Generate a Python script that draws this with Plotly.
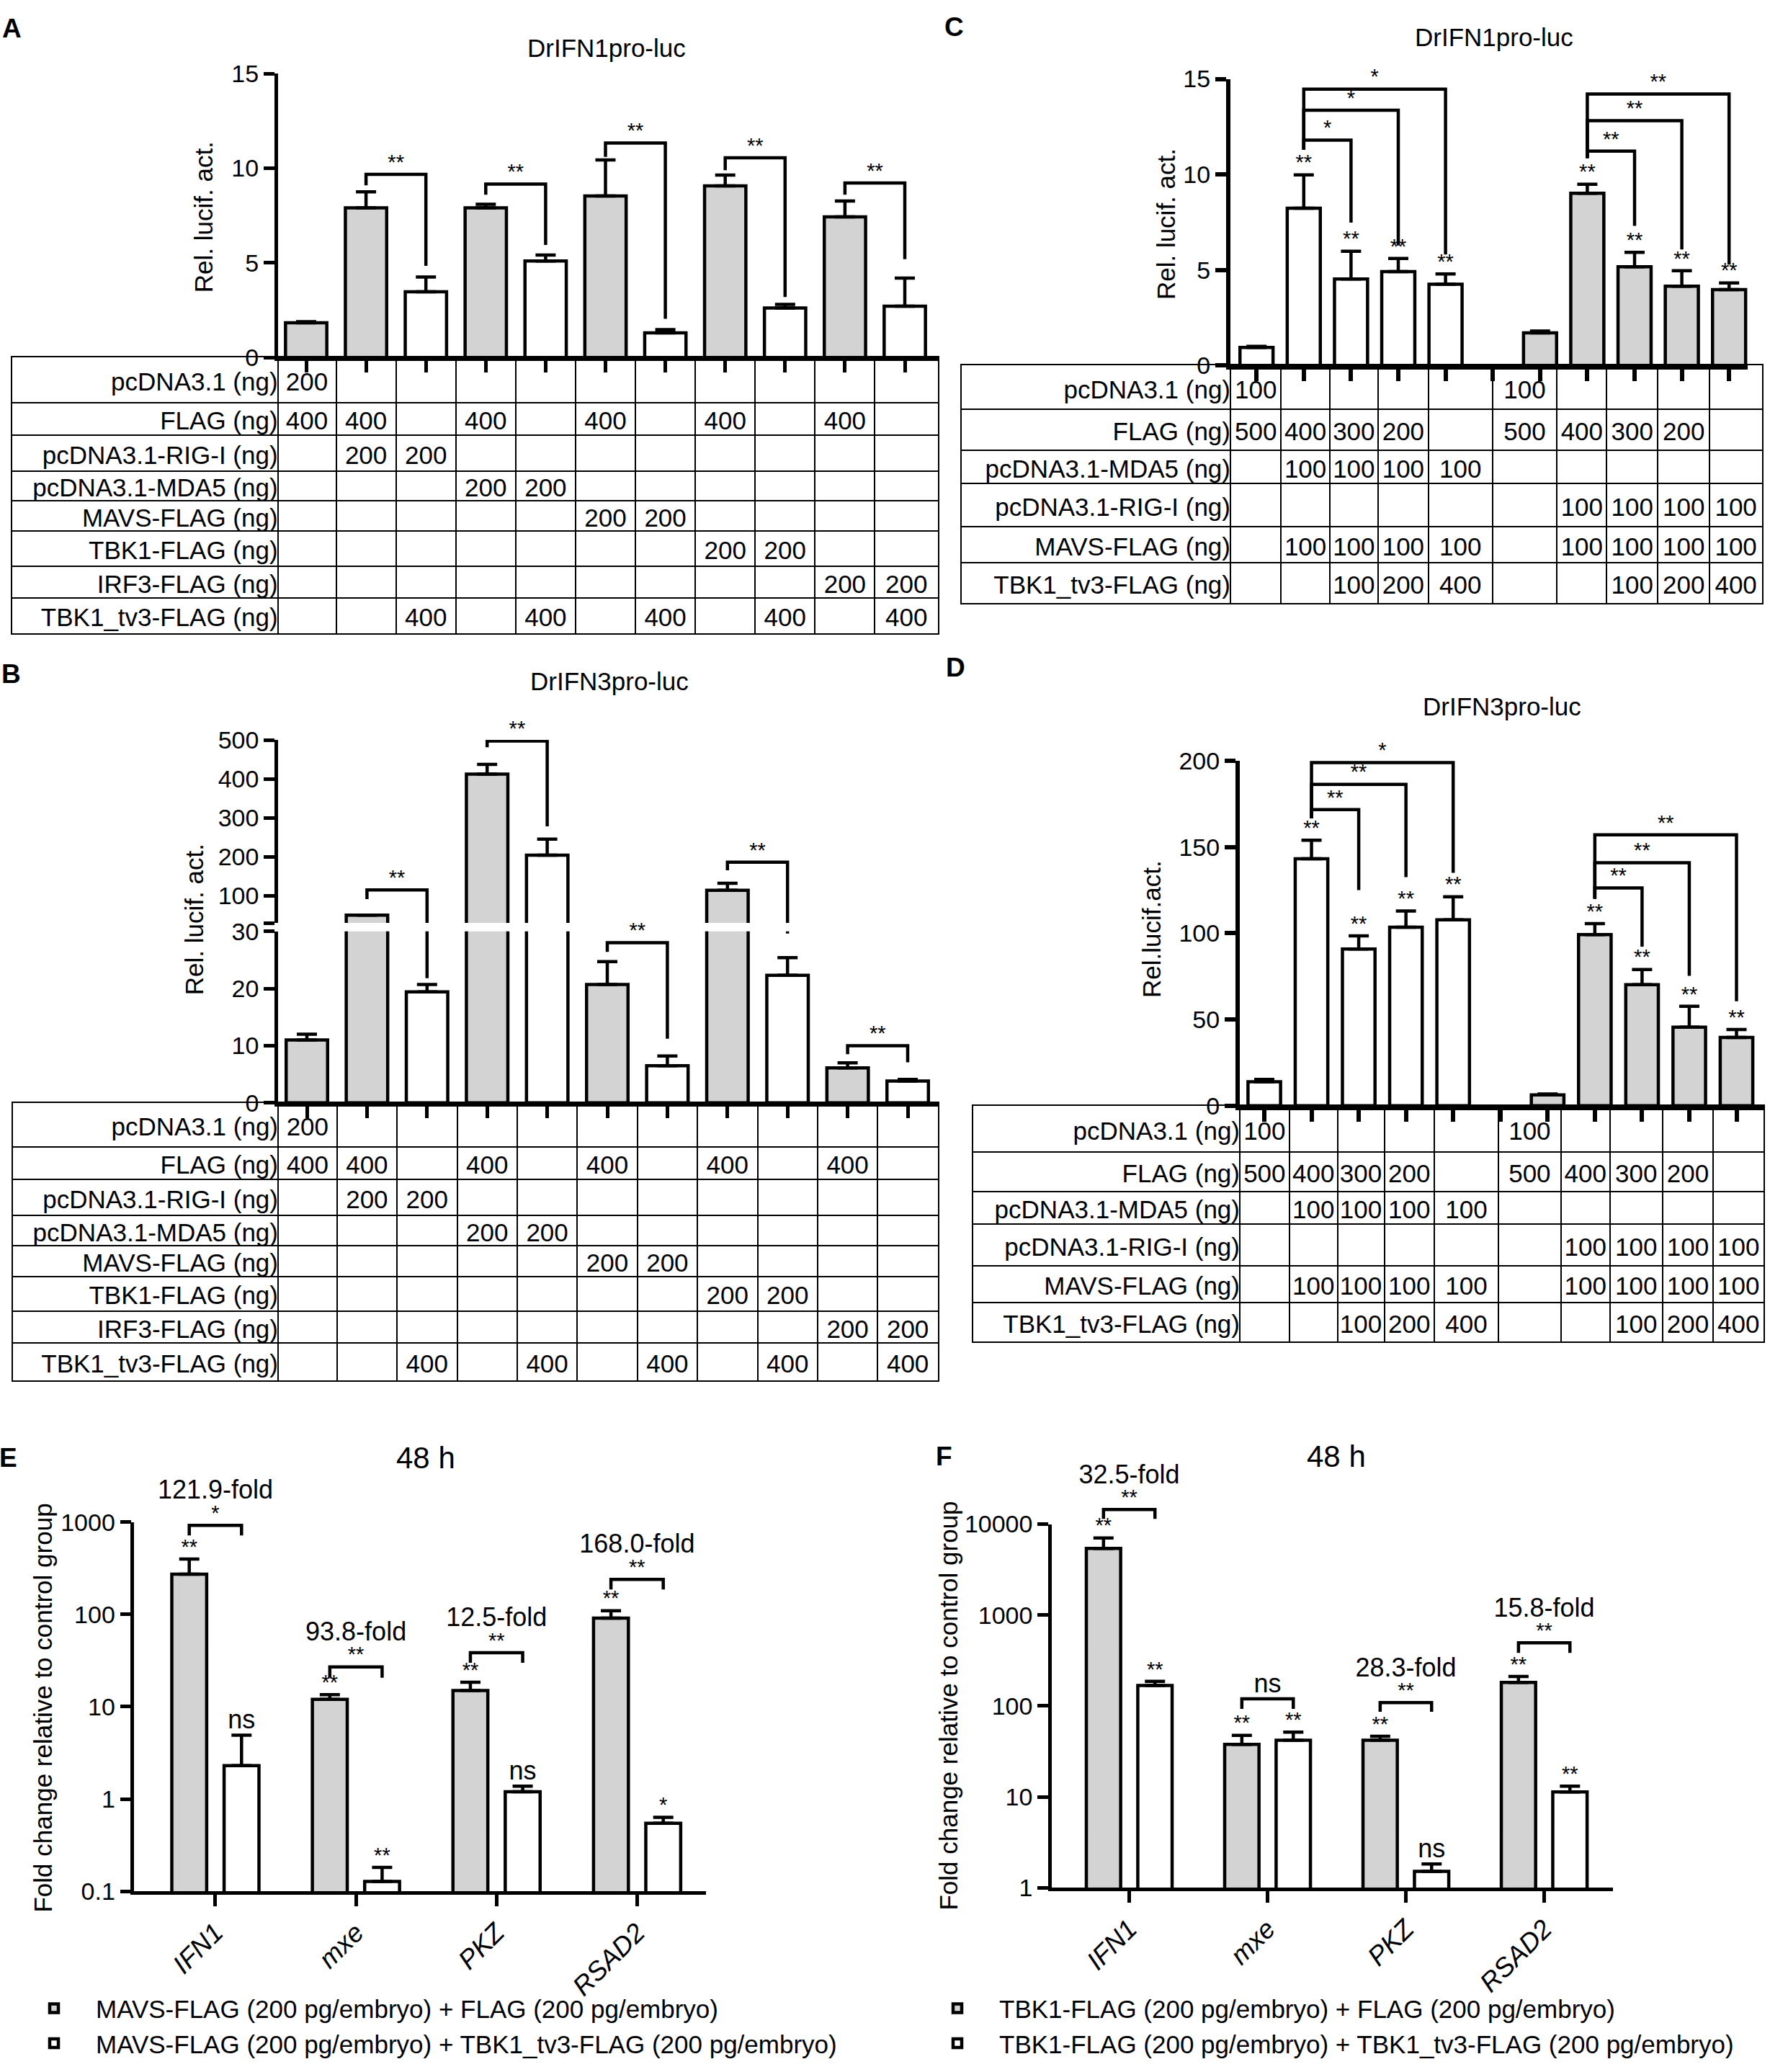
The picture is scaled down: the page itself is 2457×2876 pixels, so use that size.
import plotly.graph_objects as go

# ---------------- values ----------------

# A / B : eleven transfection groups, table under the bars
ab_rows = ["pcDNA3.1 (ng)", "FLAG (ng)", "pcDNA3.1-RIG-I (ng)", "pcDNA3.1-MDA5 (ng)",
           "MAVS-FLAG (ng)", "TBK1-FLAG (ng)", "IRF3-FLAG (ng)", "TBK1_tv3-FLAG (ng)"]
ab_cells = [
    ["200", "", "", "", "", "", "", "", "", "", ""],
    ["400", "400", "", "400", "", "400", "", "400", "", "400", ""],
    ["", "200", "200", "", "", "", "", "", "", "", ""],
    ["", "", "", "200", "200", "", "", "", "", "", ""],
    ["", "", "", "", "", "200", "200", "", "", "", ""],
    ["", "", "", "", "", "", "", "200", "200", "", ""],
    ["", "", "", "", "", "", "", "", "", "200", "200"],
    ["", "", "400", "", "400", "", "400", "", "400", "", "400"],
]
ab_pos = list(range(11))

a_mean = [1.84, 7.91, 3.48, 7.91, 5.10, 8.54, 1.31, 9.07, 2.62, 7.43, 2.72]
a_upper = [1.90, 8.76, 4.26, 8.10, 5.42, 10.44, 1.48, 9.64, 2.81, 8.27, 4.20]
# (left bar, right bar, left foot, top, right foot, label)
a_brackets = [(1, 2, 9.1, 9.68, 4.85, "**"), (3, 4, 8.6, 9.16, 5.95, "**"),
              (5, 6, 10.6, 11.33, 2.05, "**"), (7, 8, 9.9, 10.55, 3.2, "**"),
              (9, 10, 8.6, 9.22, 5.2, "**")]

b_mean = [11.0, 50.0, 19.4, 412, 204, 20.7, 6.5, 114, 22.3, 6.1, 3.8]
b_upper = [12.0, 50.0, 20.7, 437, 245, 24.7, 8.2, 132, 25.4, 7.0, 4.1]
b_brackets = [(1, 2, 91, 115, 21.8, "**"), (3, 4, 481, 497, 278, "**"),
              (5, 6, 26.4, 28.0, 11.2, "**"), (7, 8, 165, 186, 29.6, "**"),
              (9, 10, 8.5, 10.0, 7.1, "**")]

# C / D : two series of five groups
cd_rows = ["pcDNA3.1 (ng)", "FLAG (ng)", "pcDNA3.1-MDA5 (ng)", "pcDNA3.1-RIG-I (ng)",
           "MAVS-FLAG (ng)", "TBK1_tv3-FLAG (ng)"]
cd_cells = [
    ["100", "", "", "", "", "100", "", "", "", ""],
    ["500", "400", "300", "200", "", "500", "400", "300", "200", ""],
    ["", "100", "100", "100", "100", "", "", "", "", ""],
    ["", "", "", "", "", "", "100", "100", "100", "100"],
    ["", "100", "100", "100", "100", "", "100", "100", "100", "100"],
    ["", "", "100", "200", "400", "", "", "100", "200", "400"],
]
cd_pos = [0, 1, 2, 3, 4, 6, 7, 8, 9, 10]
cd_group = ["MDA5"] * 5 + ["RIG-I"] * 5

c_mean = [0.94, 8.23, 4.53, 4.91, 4.25, 1.71, 9.02, 5.17, 4.15, 3.97]
c_upper = [1.00, 9.98, 5.98, 5.60, 4.79, 1.80, 9.49, 5.92, 4.96, 4.32]
c_stars = ["", "**", "**", "**", "**", "", "**", "**", "**", "**"]
c_brackets = [(1, 2, 11.3, 11.8, 7.48, "*"), (1, 3, 11.3, 13.36, 6.28, "*"),
              (1, 4, 11.3, 14.47, 5.81, "*"), (7, 8, 10.85, 11.22, 7.31, "**"),
              (7, 9, 10.85, 12.82, 6.07, "**"), (7, 10, 10.85, 14.21, 5.28, "**")]

d_mean = [13.9, 143.2, 90.9, 103.5, 107.8, 6.3, 99.2, 70.2, 45.5, 39.6]
d_upper = [15.2, 154.0, 98.5, 112.9, 121.2, 6.8, 105.6, 79.0, 57.6, 44.2]
d_stars = ["", "**", "**", "**", "**", "", "**", "**", "**", "**"]
d_brackets = [(1, 2, 166.7, 171.7, 125, "**"), (1, 3, 166.7, 186.4, 132.6, "**"),
              (1, 4, 166.7, 199, 135.1, "*"), (7, 8, 120, 126.3, 92.2, "**"),
              (7, 9, 120, 140.9, 75.3, "**"), (7, 10, 120, 157.1, 60.6, "**")]

# E / F : qPCR, log scale
genes = ["IFN1", "mxe", "PKZ", "RSAD2"]

e_gray = [273, 12.0, 15.0, 91.2]
e_gray_up = [397, 13.5, 18.4, 109.6]
e_white = [2.30, 0.128, 1.20, 0.545]
e_white_up = [4.92, 0.182, 1.38, 0.634]
e_gray_sig = ["**", "**", "**", "**"]
e_white_sig = ["ns", "**", "ns", "*"]
e_pair_sig = ["*", "**", "**", "**"]
e_fold = ["121.9-fold", "93.8-fold", "12.5-fold", "168.0-fold"]
e_brk_top = [923, 27.0, 38.5, 239]
e_brk_foot = [716, 20.6, 29.9, 186]
e_names = ["MAVS-FLAG (200 pg/embryo) + FLAG (200 pg/embryo)",
           "MAVS-FLAG (200 pg/embryo) + TBK1_tv3-FLAG (200 pg/embryo)"]

f_gray = [5395, 37.8, 41.9, 181]
f_gray_up = [7050, 47.4, 46.4, 211]
f_white = [168, 41.9, 1.51, 11.3]
f_white_up = [186, 51.5, 1.82, 13.1]
f_gray_sig = ["**", "**", "**", "**"]
f_white_sig = ["**", "**", "ns", "**"]
f_pair_sig = ["**", "ns", "**", "**"]
f_fold = ["32.5-fold", "", "28.3-fold", "15.8-fold"]
f_brk_top = [14490, 119.7, 109, 495]
f_brk_foot = [11430, 92.6, 86, 383]
f_names = ["TBK1-FLAG (200 pg/embryo) + FLAG (200 pg/embryo)",
           "TBK1-FLAG (200 pg/embryo) + TBK1_tv3-FLAG (200 pg/embryo)"]

# ---------------- layout / style ----------------
W, H = 2457, 2876
FONT = "Liberation Sans, Arial, sans-serif"
GRAY = "#d3d3d3"
LW = 4.5      # bars, error bars, brackets
TW = 2        # table lines
BARGAP, GROUPGAP = 0.256, 0.333
ROW_TEXT_DROP = 6   # table text sits a little low in its row


def fx(p):
    return p / W


def fy(p):
    return 1 - p / H


# pixel geometry of each panel (table rows given as their boundaries, top to bottom)
GEO_A = dict(c0=425.0, step=83.1, axis=385.6, right=1302, bw=0.69, alw=4.5,
             segs=[dict(bot=483.8, top=84.2, range=[0, 15], ticks=[0, 5, 10, 15])],
             table=(16.8, 1302), rows_px=[483.8, 547, 593, 643, 685, 728, 777, 822, 872],
             cols=[k + 0.5 for k in range(10)])
GEO_B = dict(c0=426.0, step=83.4, axis=386.0, right=1302, bw=0.69, alw=4.5,
             segs=[dict(bot=1532, top=1290.7, range=[0, 30], ticks=[0, 10, 20, 30]),
                   dict(bot=1279, top=1021.5, range=[30, 500],
                        ticks=[30, 100, 200, 300, 400, 500],
                        text=["", "100", "200", "300", "400", "500"])],
             table=(18, 1302), rows_px=[1532, 1594, 1640, 1690, 1733, 1776, 1825, 1870, 1922],
             cols=[k + 0.5 for k in range(10)])
GEO_C = dict(c0=1744.2, step=65.6, axis=1708, right=2426, bw=0.7, alw=6,
             segs=[dict(bot=494.8, top=91.8, range=[0, 15], ticks=[0, 5, 10, 15])],
             table=(1334.5, 2446), rows_px=[494.8, 556.8, 614, 661, 721.5, 772, 829.4],
             cols=[0.52, 1.55, 2.57, 3.64, 4.99, 6.36, 7.41, 8.49, 9.59])
GEO_D = dict(c0=1755.0, step=65.55, axis=1721, right=2448, bw=0.69, alw=6,
             segs=[dict(bot=1536, top=1051, range=[0, 200], ticks=[0, 50, 100, 150, 200])],
             table=(1350.5, 2448), rows_px=[1536, 1601.6, 1656.7, 1703, 1761, 1813, 1868],
             cols=[0.53, 1.55, 2.54, 3.6, 4.96, 6.28, 7.32, 8.43, 9.51])
GEO_E = dict(axis=186.4, right=980, xrange=[-0.577, 3.49], bot=2641.1, top=2121.7,
             yrange=[-1, 3], ticks=[0.1, 1, 10, 100, 1000], ann_top=2040)
GEO_F = dict(axis=1460, right=2239, xrange=[-0.56, 3.497], bot=2636, top=2124.6,
             yrange=[0, 4], ticks=[1, 10, 100, 1000, 10000], ann_top=2035)

fig = go.Figure()
lay = {}
counter = {"x": 0, "y": 0}


def new_ax(letter):
    counter[letter] += 1
    n = counter[letter]
    return letter if n == 1 else f"{letter}{n}"


def key(ref):
    return ref[0] + "axis" + ref[1:]


def ystyle(lw):
    return dict(showline=True, linecolor="black", linewidth=lw, ticks="outside", ticklen=15,
                tickwidth=lw, tickcolor="black", showgrid=False, zeroline=False,
                tickfont=dict(size=34, color="black", family=FONT))


def xstyle(lw):
    return dict(showline=True, linecolor="black", linewidth=lw, ticks="outside", ticklen=16,
                tickwidth=lw, tickcolor="black", showgrid=False, zeroline=False)


def text_trace(x, y, text, xa, ya, size=29, pos="top center"):
    return go.Scatter(x=x, y=y, text=text, mode="text", textposition=pos,
                      textfont=dict(size=size, color="black", family=FONT),
                      xaxis=xa, yaxis=ya, showlegend=False, hoverinfo="skip",
                      cliponaxis=False)


def bracket_trace(segments, xa, ya):
    bx, by = [], []
    for xl, xr, yl, top, yr in segments:
        bx += [xl, xl, xr, xr, None]
        by += [yl, top, top, yr, None]
    return go.Scatter(x=bx, y=by, mode="lines", line=dict(color="black", width=LW),
                      xaxis=xa, yaxis=ya, showlegend=False, hoverinfo="skip")


def luc_panel(pos, mean, upper, fills, brackets, stars, rows, cells, g):
    u = lambda p: (p - g["c0"]) / g["step"]
    xa = new_ax("x")
    yas = []
    for s in g["segs"]:
        ya = new_ax("y")
        yas.append(ya)
        ax = dict(domain=[fy(s["bot"]), fy(s["top"])], range=s["range"], anchor=xa,
                  tickvals=s["ticks"], **ystyle(g["alw"]))
        if "text" in s:
            ax["ticktext"] = s["text"]
        lay[key(ya)] = ax
    lay[key(xa)] = dict(domain=[fx(g["axis"]), fx(g["right"])],
                        range=[u(g["axis"]), u(g["right"])], anchor=yas[0],
                        tickvals=list(range(11)), showticklabels=False, **xstyle(g["alw"]))

    err = [h - m for h, m in zip(upper, mean)]
    for s, ya in zip(g["segs"], yas):
        lo, hi = s["range"]
        fig.add_trace(go.Bar(
            x=pos, y=mean, width=g["bw"], xaxis=xa, yaxis=ya, showlegend=False,
            marker=dict(color=fills, line=dict(color="black", width=LW)),
            error_y=dict(type="data", symmetric=False, array=err, arrayminus=[0] * len(err),
                         color="black", thickness=LW, width=14)))
        # only the brackets that reach into this segment of a broken axis
        segs = [b[:5] for b in brackets if max(b[2:5]) > lo and min(b[2:5]) < hi]
        if segs:
            fig.add_trace(bracket_trace(segs, xa, ya))

    def seg_for(v):
        for s, ya in zip(g["segs"], yas):
            if s["range"][0] <= v <= s["range"][1] + 1e-9:
                return ya
        return yas[-1]

    for l, r, yl, top, yr, lab in brackets:
        fig.add_trace(text_trace([(l + r) / 2], [top], [lab], xa, seg_for(top)))
    if stars:
        for p, up, st in zip(pos, upper, stars):
            if st:
                fig.add_trace(text_trace([p], [up], [st], xa, seg_for(up)))

    # table beneath the bars (its y axis counts in pixels so rows keep their heights)
    tx, ty = new_ax("x"), new_ax("y")
    tl, tr = g["table"]
    rp = g["rows_px"]
    bounds = [u(g["axis"])] + g["cols"] + [u(tr)]
    centers = [(a + b) / 2 for a, b in zip(bounds[:-1], bounds[1:])]
    row_mid = [(a + b) / 2 + ROW_TEXT_DROP for a, b in zip(rp[:-1], rp[1:])]
    lay[key(tx)] = dict(domain=[fx(tl), fx(tr)], range=[u(tl), u(tr)], anchor=ty,
                        showline=True, mirror=True, linecolor="black", linewidth=TW,
                        tickvals=bounds[:-1], showgrid=True, gridcolor="black", gridwidth=TW,
                        showticklabels=False, ticks="", zeroline=False)
    lay[key(ty)] = dict(domain=[fy(rp[-1]), fy(rp[0])], range=[rp[-1], rp[0]], anchor=tx,
                        showline=True, mirror=True, linecolor="black", linewidth=TW,
                        tickvals=rp[1:-1], showgrid=True, gridcolor="black", gridwidth=TW,
                        showticklabels=False, ticks="", zeroline=False)
    cx, cy, ct = [], [], []
    for r, row in enumerate(cells):
        for c, val in enumerate(row):
            if val:
                cx.append(centers[c])
                cy.append(row_mid[r])
                ct.append(val)
    fig.add_trace(text_trace(cx, cy, ct, tx, ty, size=35, pos="middle center"))
    fig.add_trace(text_trace([bounds[0]] * len(rows), row_mid, rows, tx, ty,
                             size=35, pos="middle left"))


def qpcr_panel(gray, gray_up, white, white_up, gray_sig, white_sig, pair_sig, fold,
               brk_top, brk_foot, names, legend_id, g):
    xa, ya, ya2 = new_ax("x"), new_ax("y"), new_ax("y")
    lay[key(xa)] = dict(domain=[fx(g["axis"]), fx(g["right"])], range=g["xrange"], anchor=ya,
                        tickvals=list(range(len(genes))), ticktext=genes, tickangle=-45,
                        tickfont=dict(size=37, color="black", family=FONT, style="italic"),
                        **xstyle(4.5))
    lay[key(ya)] = dict(type="log", domain=[fy(g["bot"]), fy(g["top"])], range=g["yrange"],
                        anchor=xa, tickvals=g["ticks"], ticktext=[f"{t:g}" for t in g["ticks"]],
                        **ystyle(4.5))
    # invisible twin of the log axis, same scale but taller, for marks above the axis top
    per_decade = (g["bot"] - g["top"]) / (g["yrange"][1] - g["yrange"][0])
    lay[key(ya2)] = dict(type="log", domain=[fy(g["bot"]), fy(g["ann_top"])], anchor=xa,
                         range=[g["yrange"][0], g["yrange"][1] + (g["top"] - g["ann_top"]) / per_decade],
                         visible=False)
    xs = list(range(len(genes)))
    off = (1 - BARGAP) / 4
    for vals, ups, fill, name in [(gray, gray_up, GRAY, names[0]),
                                  (white, white_up, "white", names[1])]:
        fig.add_trace(go.Bar(
            x=xs, y=vals, name=name, legend=legend_id, xaxis=xa, yaxis=ya,
            marker=dict(color=fill, line=dict(color="black", width=LW)),
            error_y=dict(type="data", symmetric=False, array=[h - v for h, v in zip(ups, vals)],
                         arrayminus=[0] * len(vals), color="black", thickness=LW, width=14)))
    fig.add_trace(bracket_trace([(i - off, i + off, f, t, f)
                                 for i, t, f in zip(xs, brk_top, brk_foot)], xa, ya2))
    size_of = lambda labels: [36 if s == "ns" else 29 for s in labels]
    fig.add_trace(text_trace([i - off for i in xs], gray_up, gray_sig, xa, ya2, size=size_of(gray_sig)))
    fig.add_trace(text_trace([i + off for i in xs], white_up, white_sig, xa, ya2, size=size_of(white_sig)))
    fig.add_trace(text_trace(xs, brk_top, pair_sig, xa, ya2, size=size_of(pair_sig)))
    fig.add_trace(text_trace(xs, [t * 10 ** 0.36 for t in brk_top], fold, xa, ya2, size=36,
                             pos="middle center"))


ab_fill = ["white" if ab_cells[-1][i] else GRAY for i in ab_pos]
cd_fill = ["white" if grp == "MDA5" else GRAY for grp in cd_group]

luc_panel(ab_pos, a_mean, a_upper, ab_fill, a_brackets, None, ab_rows, ab_cells, GEO_A)
luc_panel(ab_pos, b_mean, b_upper, ab_fill, b_brackets, None, ab_rows, ab_cells, GEO_B)
luc_panel(cd_pos, c_mean, c_upper, cd_fill, c_brackets, c_stars, cd_rows, cd_cells, GEO_C)
luc_panel(cd_pos, d_mean, d_upper, cd_fill, d_brackets, d_stars, cd_rows, cd_cells, GEO_D)
qpcr_panel(e_gray, e_gray_up, e_white, e_white_up, e_gray_sig, e_white_sig, e_pair_sig,
           e_fold, e_brk_top, e_brk_foot, e_names, "legend", GEO_E)
qpcr_panel(f_gray, f_gray_up, f_white, f_white_up, f_gray_sig, f_white_sig, f_pair_sig,
           f_fold, f_brk_top, f_brk_foot, f_names, "legend2", GEO_F)

# ---------------- text around the plots ----------------
annots = []
for txt, x, y, size in [("DrIFN1pro-luc", 842, 48, 35), ("DrIFN3pro-luc", 846, 939, 35),
                        ("DrIFN1pro-luc", 2074, 33, 35), ("DrIFN3pro-luc", 2085, 974, 35),
                        ("48 h", 591, 2031, 42), ("48 h", 1855, 2029, 42)]:
    annots.append(dict(text=txt, x=fx(x), y=fy(y), font=dict(size=size)))
for txt, x, y in [("A", 16, 21), ("B", 15, 929), ("C", 1324, 19), ("D", 1326, 920),
                  ("E", 11, 2031), ("F", 1310, 2029)]:
    annots.append(dict(text=f"<b>{txt}</b>", x=fx(x), y=fy(y), font=dict(size=37)))
for txt, x, y in [("Rel. lucif. act.", 282, 286), ("Rel. lucif. act.", 269, 1274),
                  ("Rel. lucif. act.", 1618, 296), ("Rel.lucif.act.", 1599, 1288),
                  ("Fold change relative to control group", 60, 2383),
                  ("Fold change relative to control group", 1317, 2380)]:
    annots.append(dict(text=txt, x=fx(x), y=fy(y), textangle=-90, font=dict(size=35)))
for a in annots:
    a.update(xref="paper", yref="paper", xanchor="center", yanchor="middle", showarrow=False)
    a["font"].update(color="black", family=FONT)

leg = dict(x=fx(17), y=fy(2776), xanchor="left", yanchor="top", bgcolor="rgba(0,0,0,0)",
           font=dict(size=35, color="black", family=FONT), itemwidth=106, tracegroupgap=0,
           traceorder="normal")

fig.update_layout(
    width=W, height=H, margin=dict(l=0, r=0, t=0, b=0),
    paper_bgcolor="white", plot_bgcolor="rgba(0,0,0,0)",
    font=dict(family=FONT, color="black"),
    barmode="group", bargap=BARGAP, bargroupgap=GROUPGAP,
    annotations=annots, legend=leg, legend2=dict(leg, x=fx(1271)),
    **lay,
)

# pin the fixed-size figure to the window's top-left corner
pin = ("document.body.style.margin = '0px';"
       "document.body.style.overflow = 'hidden';"
       "var gd = document.getElementsByClassName('plotly-graph-div')[0];"
       "gd.style.position = 'absolute'; gd.style.top = '0px'; gd.style.left = '0px';")
fig.write_html("out.html", config={"displayModeBar": False}, post_script=pin)
